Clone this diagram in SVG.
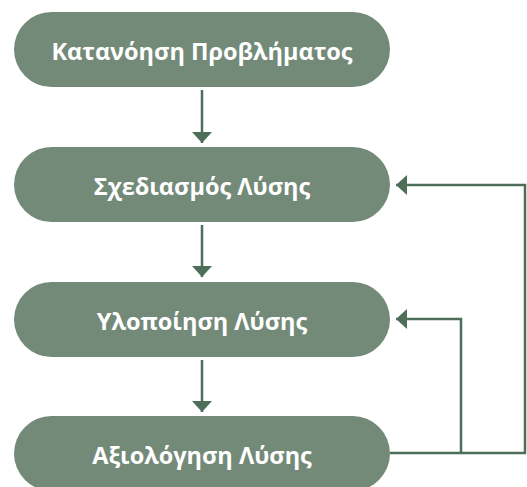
<svg xmlns="http://www.w3.org/2000/svg" width="527" height="487" viewBox="0 0 527 487">
<style>
.n{fill:#738a78}
.t{fill:#fff;font-family:"Open Sans","Noto Sans",sans-serif;font-weight:bold;font-size:23.5px;text-anchor:middle}
.c{fill:none;stroke:#4d6e58;stroke-width:2.5}
</style>
<defs>
<marker id="ah" markerWidth="12" markerHeight="20" refX="11" refY="10" orient="auto" markerUnits="userSpaceOnUse">
<path d="M0,0 L11,10 L0,20 Z" fill="#4d6e58"/>
</marker>
</defs>
<rect width="527" height="487" fill="#fff"/>
<g id="connectors">
<path class="c" d="M202,90 V143" marker-end="url(#ah)"/>
<path class="c" d="M202,225 V277" marker-end="url(#ah)"/>
<path class="c" d="M202,360 V412" marker-end="url(#ah)"/>
<path class="c" d="M390,453 H525 V185 H396" marker-end="url(#ah)"/>
<path class="c" d="M461,453 V319 H396" marker-end="url(#ah)"/>
</g>
<g id="n1"><rect class="n" x="14" y="12" width="376" height="75" rx="37.5"/><text class="t" x="202" y="60">Κατανόηση Προβλήματος</text></g>
<g id="n2"><rect class="n" x="14" y="147" width="376" height="75" rx="37.5"/><text class="t" x="202" y="195">Σχεδιασμός Λύσης</text></g>
<g id="n3"><rect class="n" x="14" y="282" width="376" height="75" rx="37.5"/><text class="t" x="202" y="330">Υλοποίηση Λύσης</text></g>
<g id="n4"><rect class="n" x="14" y="416" width="376" height="75" rx="37.5"/><text class="t" x="202" y="464">Αξιολόγηση Λύσης</text></g>
</svg>
